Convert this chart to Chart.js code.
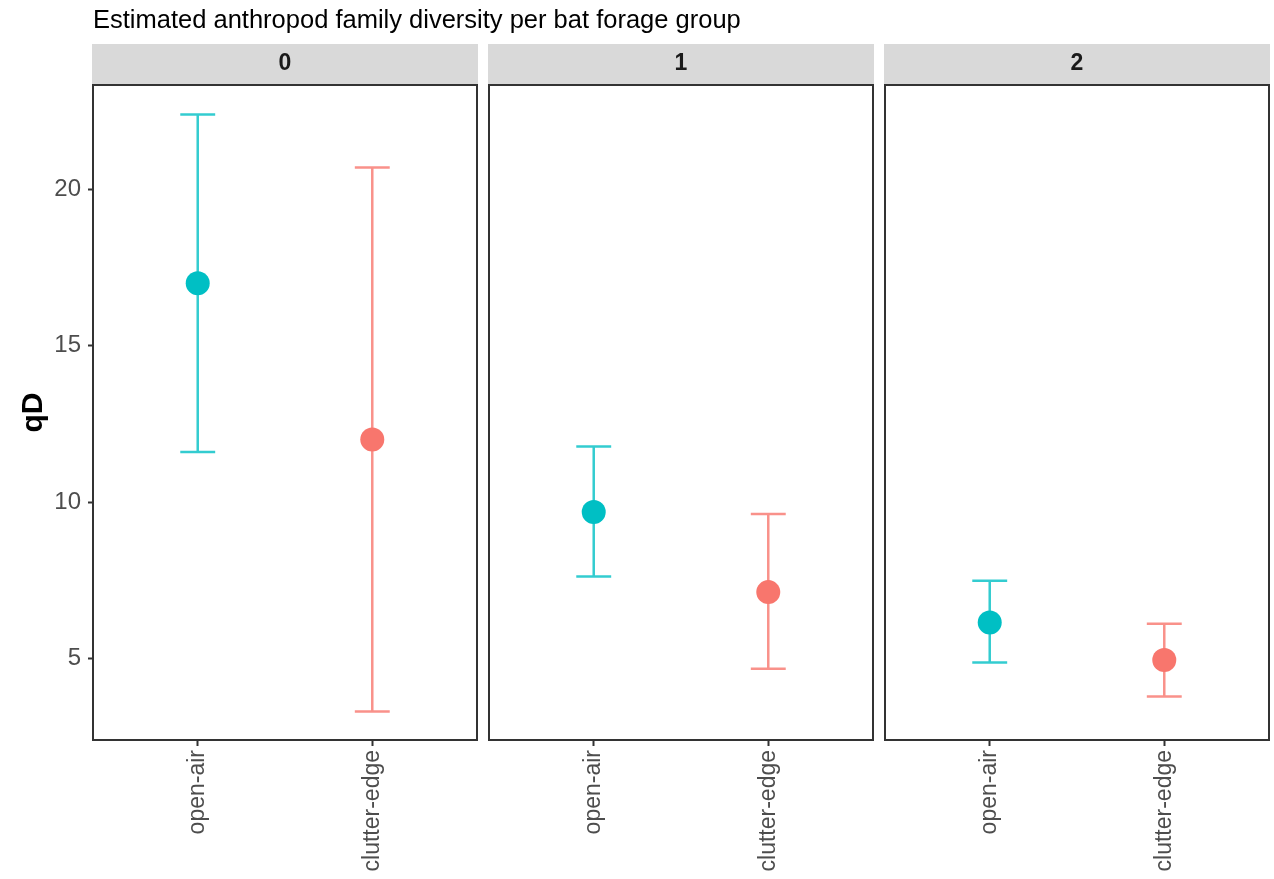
<!DOCTYPE html>
<html>
<head>
<meta charset="utf-8">
<script src="https://cdn.jsdelivr.net/npm/chart.js@4/dist/chart.umd.min.js"></script>
<style>
  body { margin: 0; background: #fff; overflow: hidden; }
  #wrap { position: relative; width: 1274px; height: 879px; overflow: hidden; }
  #wrap canvas { position: absolute; left: 0; top: 0; }
</style>
</head>
<body>
<div id="wrap">
  <canvas id="panel0" width="1300" height="879"></canvas>
  <canvas id="panel1" width="1300" height="879"></canvas>
  <canvas id="panel2" width="1300" height="879"></canvas>
</div>
<script>
// facet groups (q order) and x categories
const groups = ["0", "1", "2"];
const categories = ["open-air", "clutter-edge"];

// estimated qD with confidence limits, one value per facet
const openAirQD   = [17.0, 9.68, 6.15];
const openAirLow  = [11.6, 7.62, 4.87];
const openAirHigh = [22.4, 11.78, 7.48];

const clutterQD   = [12.0, 7.12, 4.95];
const clutterLow  = [3.3, 4.67, 3.78];
const clutterHigh = [20.7, 9.62, 6.11];

const yTicks = [5, 10, 15, 20];

const title = "Estimated anthropod family diversity per bat forage group";

Chart.defaults.font.family = "'Liberation Sans', Arial, sans-serif";

const teal = "#00BFC4";
const salmon = "#F8766D";
const canvasW = 1300;
const panelLeft = [93, 489, 885];
const panelRight = [477, 873, 1269];

/* =========================
      PLUGINS
========================= */

const panelFrame = {
    id: "panelFrame",
    afterDraw(chart, args, opts) {
        const ctx = chart.ctx;
        const a = chart.chartArea;
        ctx.save();
        ctx.strokeStyle = "#333333";
        ctx.lineWidth = 2;
        ctx.strokeRect(a.left, a.top, a.right - a.left, a.bottom - a.top);

        // strip
        ctx.fillStyle = "#D9D9D9";
        ctx.fillRect(a.left - 1, 44, a.right - a.left + 2, a.top - 45);
        ctx.fillStyle = "#1A1A1A";
        ctx.font = "bold 23px 'Liberation Sans', Arial, sans-serif";
        ctx.textAlign = "center";
        ctx.textBaseline = "middle";
        ctx.fillText(opts.label, (a.left + a.right) / 2, 64);

        if (opts.showTitle) {
            ctx.fillStyle = "#000000";
            ctx.font = "25.5px 'Liberation Sans', Arial, sans-serif";
            ctx.textAlign = "left";
            ctx.textBaseline = "alphabetic";
            ctx.fillText(title, 93, 28);
        }
        ctx.restore();
    }
};

const errorBars = {
    id: "errorBars",
    beforeDatasetsDraw(chart) {
        const ctx = chart.ctx;
        const xs = chart.scales.x;
        const ys = chart.scales.y;
        ctx.save();
        ctx.lineWidth = 2.5;
        chart.data.datasets.forEach(ds => {
            ds.data.forEach(p => {
                const x = xs.getPixelForValue(p.x);
                const x0 = xs.getPixelForValue(p.x - 0.1);
                const x1 = xs.getPixelForValue(p.x + 0.1);
                const yl = ys.getPixelForValue(p.low);
                const yh = ys.getPixelForValue(p.high);
                ctx.strokeStyle = ds.barColor;
                ctx.beginPath();
                ctx.moveTo(x, yl); ctx.lineTo(x, yh);
                ctx.moveTo(x0, yl); ctx.lineTo(x1, yl);
                ctx.moveTo(x0, yh); ctx.lineTo(x1, yh);
                ctx.stroke();
            });
        });
        ctx.restore();
    }
};

/* =========================
      CREATE CHARTS
========================= */

function createPanel(i) {

    const first = i === 0;

    new Chart(document.getElementById("panel" + i), {
        type: "scatter",
        data: {
            datasets: [
                {
                    data: [{ x: 1, y: openAirQD[i], low: openAirLow[i], high: openAirHigh[i] }],
                    backgroundColor: teal,
                    barColor: "rgba(0,191,196,0.8)",
                    pointRadius: 12,
                    pointBorderWidth: 0
                },
                {
                    data: [{ x: 2, y: clutterQD[i], low: clutterLow[i], high: clutterHigh[i] }],
                    backgroundColor: salmon,
                    barColor: "rgba(248,118,109,0.8)",
                    pointRadius: 12,
                    pointBorderWidth: 0
                }
            ]
        },
        options: {
            responsive: false,
            animation: false,
            layout: {
                padding: {
                    left: first ? 0 : panelLeft[i],
                    right: canvasW - panelRight[i],
                    top: 85,
                    bottom: 0
                }
            },
            plugins: {
                legend: { display: false },
                tooltip: { enabled: false },
                panelFrame: { label: groups[i], showTitle: first }
            },
            scales: {
                x: {
                    type: "linear",
                    min: 0.4,
                    max: 2.6,
                    afterBuildTicks: s => { s.ticks = categories.map((c, k) => ({ value: k + 1 })); },
                    afterFit: s => { s.height = 139; s.paddingLeft = 0; s.paddingRight = 0; },
                    border: { display: false },
                    grid: {
                        drawOnChartArea: false,
                        tickLength: 6,
                        tickColor: "#333333",
                        tickWidth: 2
                    },
                    ticks: {
                        autoSkip: false,
                        minRotation: 90,
                        maxRotation: 90,
                        padding: 4,
                        color: "#4D4D4D",
                        font: { size: 23 },
                        callback: v => categories[v - 1]
                    }
                },
                y: {
                    display: first,
                    min: 2.39,
                    max: 23.34,
                    afterBuildTicks: s => { s.ticks = yTicks.map(v => ({ value: v })); },
                    afterFit: s => { s.width = first ? 93 : 0; },
                    border: { display: false },
                    grid: {
                        drawOnChartArea: false,
                        tickLength: 5,
                        tickColor: "#333333",
                        tickWidth: 2
                    },
                    ticks: {
                        padding: 7,
                        color: "#4D4D4D",
                        font: { size: 24 }
                    },
                    title: {
                        display: true,
                        text: "qD",
                        color: "#000000",
                        font: { size: 30, weight: "bold", lineHeight: 1.2 },
                        padding: { top: 16 }
                    }
                }
            }
        },
        plugins: [panelFrame, errorBars]
    });

}

groups.forEach((g, i) => createPanel(i));
</script>
</body>
</html>
